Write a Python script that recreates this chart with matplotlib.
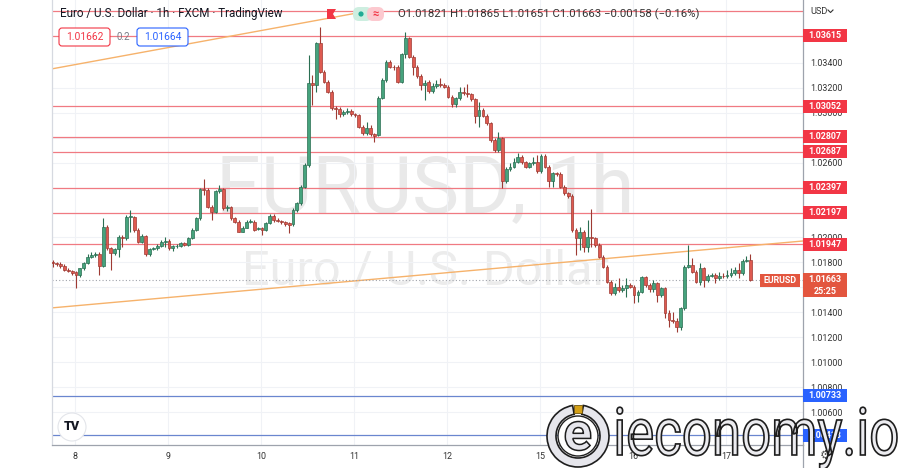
"""
EURUSD 1h candles (FXCM via TradingView) with support / resistance levels.

Writes: out.png
"""

import matplotlib
matplotlib.use("Agg")
import numpy as np
import matplotlib.pyplot as plt
import matplotlib.patches as mpatches
import matplotlib.transforms as mtransforms
from matplotlib.textpath import TextPath
from matplotlib.font_manager import FontProperties
from matplotlib.lines import Line2D

plt.rcParams["font.family"] = ["Roboto", "DejaVu Sans"]

W, H = 899, 468

# hourly bars, oldest first
OPEN = [
    1.01801, 1.01793, 1.01785, 1.01775, 1.01740, 1.01732, 1.01721, 1.01700, 1.01753, 1.01793,
    1.01847, 1.01860, 1.01868, 1.01775, 1.02087, 1.01914, 1.01874, 1.01908, 1.02007, 1.01994,
    1.02167, 1.02167, 1.02060, 1.01967, 1.02015, 1.01866, 1.01908, 1.01914, 1.01935, 1.01967,
    1.01975, 1.01914, 1.01930, 1.01935, 1.01954, 1.01940, 1.01994, 1.02060, 1.02154, 1.02389,
    1.02381, 1.02247, 1.02202, 1.02373, 1.02389, 1.02234, 1.02247, 1.02154, 1.02127, 1.02047,
    1.02079, 1.02127, 1.02127, 1.02068, 1.02074, 1.02060, 1.02114, 1.02175, 1.02141, 1.02133,
    1.02122, 1.02114, 1.02106, 1.02221, 1.02274, 1.02407, 1.02581, 1.03235, 1.03221, 1.03555,
    1.03328, 1.03248, 1.03168, 1.03035, 1.03029, 1.02986, 1.03002, 1.03013, 1.02986, 1.02981,
    1.02888, 1.02834, 1.02880, 1.02826, 1.02821, 1.03120, 1.03262, 1.03408, 1.03368, 1.03368,
    1.03248, 1.03467, 1.03595, 1.03448, 1.03368, 1.03296, 1.03221, 1.03243, 1.03173, 1.03213,
    1.03227, 1.03221, 1.03208, 1.03128, 1.03067, 1.03115, 1.03168, 1.03155, 1.03147, 1.03109,
    1.02976, 1.03021, 1.02976, 1.02914, 1.02781, 1.02701, 1.02794, 1.02452, 1.02549, 1.02567,
    1.02607, 1.02647, 1.02602, 1.02567, 1.02594, 1.02602, 1.02533, 1.02656, 1.02568, 1.02455,
    1.02514, 1.02509, 1.02407, 1.02354, 1.02333, 1.02060, 1.01993, 1.02047, 1.01927, 1.02001,
    1.01993, 1.01940, 1.01847, 1.01767, 1.01646, 1.01553, 1.01606, 1.01580, 1.01593, 1.01620,
    1.01606, 1.01540, 1.01566, 1.01681, 1.01620, 1.01585, 1.01633, 1.01540, 1.01593, 1.01393,
    1.01339, 1.01334, 1.01286, 1.01433, 1.01767, 1.01780, 1.01726, 1.01646, 1.01753, 1.01660,
    1.01692, 1.01700, 1.01673, 1.01692, 1.01689, 1.01700, 1.01718, 1.01740, 1.01718, 1.01815,
    1.01821,
]
HIGH = [
    1.01820, 1.01807, 1.01801, 1.01785, 1.01753, 1.01740, 1.01732, 1.01759, 1.01807, 1.01866,
    1.01882, 1.01887, 1.01882, 1.02154, 1.02101, 1.01927, 1.01919, 1.02020, 1.02020, 1.02181,
    1.02221, 1.02170, 1.02074, 1.02026, 1.02020, 1.01919, 1.01927, 1.01946, 1.01978, 1.02007,
    1.01988, 1.01940, 1.01946, 1.01967, 1.01967, 1.02007, 1.02074, 1.02167, 1.02400, 1.02469,
    1.02394, 1.02261, 1.02384, 1.02421, 1.02400, 1.02261, 1.02255, 1.02167, 1.02141, 1.02095,
    1.02141, 1.02149, 1.02141, 1.02087, 1.02087, 1.02127, 1.02186, 1.02186, 1.02154, 1.02143,
    1.02133, 1.02127, 1.02234, 1.02287, 1.02420, 1.02594, 1.03462, 1.03302, 1.03568, 1.03689,
    1.03342, 1.03262, 1.03181, 1.03053, 1.03043, 1.03019, 1.03035, 1.03029, 1.03000, 1.02989,
    1.02901, 1.02928, 1.02901, 1.02837, 1.03136, 1.03275, 1.03422, 1.03422, 1.03382, 1.03382,
    1.03481, 1.03643, 1.03608, 1.03462, 1.03382, 1.03310, 1.03262, 1.03262, 1.03235, 1.03262,
    1.03275, 1.03235, 1.03221, 1.03141, 1.03128, 1.03208, 1.03208, 1.03227, 1.03160, 1.03120,
    1.03088, 1.03035, 1.02989, 1.02928, 1.02794, 1.02848, 1.02808, 1.02562, 1.02594, 1.02634,
    1.02674, 1.02661, 1.02615, 1.02607, 1.02647, 1.02661, 1.02666, 1.02669, 1.02581, 1.02527,
    1.02527, 1.02522, 1.02420, 1.02367, 1.02346, 1.02074, 1.02087, 1.02060, 1.02140, 1.02226,
    1.02007, 1.01954, 1.01860, 1.01780, 1.01660, 1.01633, 1.01673, 1.01620, 1.01673, 1.01633,
    1.01620, 1.01580, 1.01692, 1.01692, 1.01633, 1.01660, 1.01646, 1.01606, 1.01606, 1.01419,
    1.01406, 1.01353, 1.01446, 1.01780, 1.01940, 1.01833, 1.01740, 1.01793, 1.01767, 1.01706,
    1.01713, 1.01713, 1.01726, 1.01713, 1.01740, 1.01753, 1.01767, 1.01793, 1.01828, 1.01852,
    1.01865,
]
LOW = [
    1.01767, 1.01775, 1.01759, 1.01732, 1.01721, 1.01700, 1.01593, 1.01687, 1.01740, 1.01785,
    1.01834, 1.01847, 1.01700, 1.01767, 1.01900, 1.01740, 1.01860, 1.01847, 1.01927, 1.01980,
    1.02047, 1.02047, 1.01954, 1.01954, 1.01855, 1.01855, 1.01900, 1.01903, 1.01927, 1.01927,
    1.01900, 1.01892, 1.01914, 1.01927, 1.01932, 1.01932, 1.01986, 1.02052, 1.02141, 1.02341,
    1.02234, 1.02141, 1.02194, 1.02354, 1.02221, 1.02213, 1.02141, 1.02114, 1.02042, 1.02042,
    1.02074, 1.02114, 1.02052, 1.02058, 1.02020, 1.02052, 1.02106, 1.02127, 1.02122, 1.02111,
    1.02095, 1.02034, 1.02095, 1.02207, 1.02260, 1.02394, 1.02567, 1.03061, 1.03168, 1.03315,
    1.03235, 1.03155, 1.03021, 1.02949, 1.02968, 1.02973, 1.02986, 1.02973, 1.02965, 1.02874,
    1.02821, 1.02821, 1.02813, 1.02762, 1.02813, 1.03107, 1.03248, 1.03355, 1.03342, 1.03235,
    1.03235, 1.03440, 1.03435, 1.03302, 1.03275, 1.03181, 1.03101, 1.03155, 1.03155, 1.03200,
    1.03208, 1.03195, 1.03115, 1.03048, 1.03048, 1.03101, 1.03141, 1.03128, 1.03096, 1.02914,
    1.02888, 1.02962, 1.02901, 1.02768, 1.02687, 1.02687, 1.02394, 1.02439, 1.02535, 1.02554,
    1.02594, 1.02589, 1.02554, 1.02554, 1.02581, 1.02519, 1.02514, 1.02555, 1.02407, 1.02407,
    1.02495, 1.02394, 1.02341, 1.02319, 1.02047, 1.01860, 1.01900, 1.01887, 1.01887, 1.01927,
    1.01927, 1.01834, 1.01754, 1.01633, 1.01540, 1.01540, 1.01566, 1.01566, 1.01526, 1.01593,
    1.01473, 1.01486, 1.01553, 1.01606, 1.01566, 1.01566, 1.01486, 1.01526, 1.01353, 1.01286,
    1.01313, 1.01246, 1.01259, 1.01419, 1.01754, 1.01713, 1.01633, 1.01620, 1.01606, 1.01646,
    1.01686, 1.01633, 1.01660, 1.01673, 1.01673, 1.01686, 1.01700, 1.01673, 1.01700, 1.01800,
    1.01651,
]
CLOSE = [
    1.01793, 1.01785, 1.01775, 1.01740, 1.01732, 1.01713, 1.01700, 1.01753, 1.01793, 1.01847,
    1.01860, 1.01868, 1.01775, 1.02087, 1.01914, 1.01874, 1.01908, 1.02007, 1.01994, 1.02167,
    1.02170, 1.02060, 1.01967, 1.02015, 1.01866, 1.01908, 1.01914, 1.01935, 1.01967, 1.01975,
    1.01914, 1.01930, 1.01935, 1.01954, 1.01940, 1.01994, 1.02060, 1.02154, 1.02389, 1.02381,
    1.02247, 1.02202, 1.02373, 1.02389, 1.02234, 1.02247, 1.02154, 1.02127, 1.02047, 1.02079,
    1.02127, 1.02135, 1.02060, 1.02074, 1.02060, 1.02114, 1.02175, 1.02141, 1.02133, 1.02122,
    1.02106, 1.02101, 1.02221, 1.02274, 1.02407, 1.02581, 1.03235, 1.03221, 1.03555, 1.03328,
    1.03248, 1.03168, 1.03035, 1.03029, 1.02986, 1.03002, 1.03013, 1.02986, 1.02981, 1.02888,
    1.02834, 1.02880, 1.02826, 1.02816, 1.03120, 1.03262, 1.03408, 1.03368, 1.03365, 1.03248,
    1.03467, 1.03595, 1.03448, 1.03368, 1.03296, 1.03221, 1.03235, 1.03173, 1.03213, 1.03227,
    1.03221, 1.03208, 1.03128, 1.03067, 1.03115, 1.03168, 1.03155, 1.03147, 1.03109, 1.02976,
    1.03021, 1.02976, 1.02914, 1.02781, 1.02701, 1.02794, 1.02452, 1.02549, 1.02567, 1.02607,
    1.02647, 1.02602, 1.02567, 1.02594, 1.02602, 1.02533, 1.02655, 1.02568, 1.02455, 1.02514,
    1.02509, 1.02407, 1.02354, 1.02333, 1.02060, 1.01993, 1.02047, 1.01927, 1.02001, 1.01993,
    1.01940, 1.01847, 1.01767, 1.01646, 1.01553, 1.01606, 1.01580, 1.01593, 1.01620, 1.01606,
    1.01540, 1.01566, 1.01681, 1.01620, 1.01585, 1.01633, 1.01540, 1.01593, 1.01393, 1.01339,
    1.01334, 1.01286, 1.01433, 1.01767, 1.01780, 1.01726, 1.01646, 1.01753, 1.01660, 1.01692,
    1.01700, 1.01673, 1.01692, 1.01689, 1.01700, 1.01718, 1.01740, 1.01718, 1.01815, 1.01820,
    1.01663,
]

DAY_LABELS = ["8", "9", "10", "11", "12", "15", "16", "17"]
FIRST_DAY_BAR = 5.75
BARS_PER_DAY = 24

# horizontal levels drawn on the chart
RES_LEVELS = [1.03615, 1.03052, 1.02807, 1.02687, 1.02397, 1.02197, 1.01947]
TOP_LEVEL = 1.03814          # label hidden behind the currency menu
SUP_LEVELS = [1.00733, 1.00418]

# trend lines: (bar index, price) end points
TREND_UPPER = ([-1, 81], [1.03346, 1.03812])
TREND_LOWER = ([-1, 194], [1.01434, 1.01973])

LAST_PRICE = 1.01663
COUNTDOWN = "25:25"
BID, SPREAD, ASK = "1.01662", "0.2", "1.01664"
OHLC_TEXT = "O1.01821 H1.01865 L1.01651 C1.01663 \u22120.00158 (\u22120.16%)"

Y_TICKS = [1.006, 1.008, 1.010, 1.012, 1.014, 1.016, 1.018, 1.020,
           1.022, 1.024, 1.026, 1.028, 1.030, 1.032, 1.034]
# scale labels that sit fully under a price tag
HIDDEN_TICKS = [1.016, 1.022, 1.024, 1.028]

GREEN, GREEN_EDGE = "#46a37d", "#2a6e52"
RED, RED_EDGE = "#de5a50", "#9e3a33"
TAG_RED = "#f23645"
TAG_BLUE = "#2962ff"
TAG_LAST = "#e3563f"
LEVEL_RED = "#f07a82"
LEVEL_BLUE = "#6a86cf"
TREND_COL = "#f6b26b"
TEXT = "#131722"
GRID = "#f0f2f6"

# plot frame in pixels (top-left origin)
PL, PR, PT, PB = 52, 803, 0, 445
YMIN, YMAX = 1.00338, 1.03902
XMIN, XMAX = -0.19, 193.6


def main():
    fig = plt.figure(figsize=(W / 100, H / 100), dpi=100)
    fig.patch.set_facecolor("white")
    px = mtransforms.Affine2D().scale(1 / W, 1 / H) + fig.transFigure

    ax = fig.add_axes([PL / W, 1 - PB / H, (PR - PL) / W, (PB - PT) / H])
    ax.set_facecolor("white")
    ax.set_xlim(XMIN, XMAX)
    ax.set_ylim(YMIN, YMAX)

    day_pos = [FIRST_DAY_BAR + BARS_PER_DAY * k for k in range(len(DAY_LABELS))]
    ax.set_xticks(day_pos)
    ax.set_xticklabels(DAY_LABELS)
    ax.set_yticks(Y_TICKS)
    ax.set_yticklabels(["" if any(abs(v - t) < 1e-9 for t in HIDDEN_TICKS) else f"{v:.5f}"
                        for v in Y_TICKS])
    ax.yaxis.tick_right()
    ax.tick_params(axis="y", length=0, pad=5.5, labelsize=6.4, labelcolor="#333")
    ax.tick_params(axis="x", length=0, pad=5, labelsize=6.4, labelcolor="#333")
    ax.grid(True, color=GRID, lw=0.8)
    ax.set_axisbelow(True)
    ax.spines["top"].set_visible(False)
    ax.spines["left"].set_color("#d6d9e0")
    ax.spines["bottom"].set_color("#9ea3ad")
    ax.spines["right"].set_color("#9ea3ad")
    for s in ("left", "bottom", "right"):
        ax.spines[s].set_linewidth(0.9)
    fig.add_artist(Line2D([PR, PR], [0, H - PB], transform=px, color="#9ea3ad", lw=0.9))

    # watermarks
    ax.text(0.497, 1 - 212 / 445, "EURUSD, 1h", transform=ax.transAxes,
            ha="center", va="baseline", fontsize=57, color="#e9e9e9", zorder=0)
    ax.text(0.497, 1 - 284 / 445, "Euro / U.S. Dollar", transform=ax.transAxes,
            ha="center", va="baseline", fontsize=35, color="#ececec", zorder=0)

    # levels and trend lines
    ax.axhline(TOP_LEVEL, color=LEVEL_RED, lw=0.9, zorder=2)
    for lvl in RES_LEVELS:
        ax.axhline(lvl, color=LEVEL_RED, lw=0.9, zorder=2)
    for lvl in SUP_LEVELS:
        ax.axhline(lvl, color=LEVEL_BLUE, lw=0.9, zorder=2)
    ax.plot(*TREND_UPPER, color=TREND_COL, lw=1, zorder=2)
    ax.plot(*TREND_LOWER, color=TREND_COL, lw=1, zorder=2)
    ax.axhline(LAST_PRICE, color="#a0a3ab", lw=0.8, ls=(0, (1, 2)), zorder=2)

    # candles
    o, h, l, c = (np.array(a) for a in (OPEN, HIGH, LOW, CLOSE))
    idx = np.arange(len(c))
    up = c >= o
    wick_col = np.where(up, GREEN_EDGE, RED_EDGE)
    ax.vlines(idx, l, h, colors=wick_col, lw=0.8, zorder=3)
    body = np.maximum(np.abs(c - o), 0.00004)
    ax.bar(idx, body, bottom=np.minimum(o, c), width=0.72,
           color=np.where(up, GREEN, RED), edgecolor=wick_col, linewidth=0.5, zorder=4)

    # price tags on the axis
    dy = (YMAX - YMIN) / (PB - PT)
    blend = mtransforms.blended_transform_factory(fig.transFigure, ax.transData)

    def tag(price, text, color, x0=PR, w=44, h_up=6.5, h_dn=6.5):
        ax.add_patch(mpatches.Rectangle((x0 / W, price - h_dn * dy), w / W, (h_up + h_dn) * dy,
                                        transform=blend, facecolor=color, edgecolor="none",
                                        clip_on=False, zorder=10))
        ax.text((x0 + w / 2) / W, price, text, transform=blend, ha="center", va="center",
                color="white", fontsize=6.4, fontweight="bold", clip_on=False, zorder=11)

    for lvl in RES_LEVELS:
        tag(lvl, f"{lvl:.5f}", TAG_RED)
    for lvl in SUP_LEVELS:
        tag(lvl, f"{lvl:.5f}", TAG_BLUE)
    tag(LAST_PRICE, f"{LAST_PRICE:.5f}", TAG_LAST, h_up=6.5, h_dn=17.5)
    ax.text((PR + 22) / W, LAST_PRICE - 11.5 * dy, COUNTDOWN, transform=blend,
            ha="center", va="center", color="white", fontsize=6.4, fontweight="bold",
            clip_on=False, zorder=11)
    tag(LAST_PRICE - 1.2 * dy, "EURUSD", TAG_LAST, x0=760, w=40)

    # header legend
    fig.text(60 / W, 1 - 14 / H, "Euro / U.S. Dollar \u00b7 1h \u00b7 FXCM \u00b7 TradingView",
             fontsize=8.4, color=TEXT, va="center", ha="left")
    flag = [(327, 9), (336, 9), (333, 14), (336, 19), (327, 19)]
    fig.add_artist(mpatches.Polygon([(x, H - y) for x, y in flag], closed=True,
                                    transform=px, facecolor="#f23645", edgecolor="none"))
    fig.add_artist(mpatches.FancyBboxPatch((353, H - 21), 19, 14,
                                           boxstyle="round,pad=0,rounding_size=6",
                                           transform=px, facecolor="#cdeee0", edgecolor="none"))
    fig.add_artist(mpatches.Circle((361, H - 14), 2.6, transform=px,
                                   facecolor="#22ab94", edgecolor="none"))
    fig.add_artist(mpatches.FancyBboxPatch((367, H - 21), 17, 14,
                                           boxstyle="round,pad=0,rounding_size=6",
                                           transform=px, facecolor="#fcc9cf", edgecolor="none"))
    fig.text(375.5 / W, 1 - 14 / H, "\u2248", fontsize=8, color=TAG_RED,
             ha="center", va="center", fontweight="bold")
    fig.text(398 / W, 1 - 14 / H, OHLC_TEXT, fontsize=8.2, color="#333", va="center", ha="left")

    for x0, txt, col in ((59, BID, TAG_RED), (137, ASK, TAG_BLUE)):
        fig.add_artist(mpatches.FancyBboxPatch((x0, H - 46), 51, 18,
                                               boxstyle="round,pad=0,rounding_size=3",
                                               transform=px, facecolor="white",
                                               edgecolor=col, lw=0.8))
        fig.text((x0 + 25.5) / W, 1 - 37 / H, txt, fontsize=7.4, color=col,
                 ha="center", va="center")
    fig.text(123 / W, 1 - 37 / H, SPREAD, fontsize=7, color="#787b86", ha="center", va="center")

    # currency menu
    fig.text(810 / W, 1 - 11 / H, "USD", fontsize=6.6, color="#333", va="center", ha="left")
    fig.add_artist(Line2D([828, 830.5, 833], [H - 10, H - 12.5, H - 10], transform=px,
                          color="#333", lw=0.8))

    # TradingView badge
    fig.add_artist(mpatches.Circle((72, H - 427), 14, transform=px,
                                   facecolor="white", edgecolor="#e3e5ea", lw=0.8))
    fig.text(72 / W, 1 - 427 / H, "TV", fontsize=9, fontweight="heavy", color=TEXT,
             ha="center", va="center")
    fig.text(825 / W, 1 - 455 / H, "\u2699", fontsize=9, color="#555",
             ha="center", va="center", family=["DejaVu Sans"])

    # ieconomy.io watermark
    fp = FontProperties(family="Roboto")
    tp = TextPath((0, 0), "ieconomy.io", size=1, prop=fp)
    ext = tp.get_extents()
    sx, sy = 280 / ext.width, 35 / 0.528
    tr = mtransforms.Affine2D().translate(-ext.x0, 0).scale(sx, sy).translate(617, H - 455) + px
    fig.add_artist(mpatches.PathPatch(tp, transform=tr, facecolor="#ececf0",
                                      edgecolor="#1e1e1e", lw=1.2, zorder=20))
    cx, cy = 578, H - 436
    fig.add_artist(mpatches.Wedge((cx, cy), 31, 100, 440, width=9, transform=px,
                                  facecolor="#e6e6ec", edgecolor="#1e1e1e", lw=1.2, zorder=20))
    fig.add_artist(mpatches.Circle((cx, cy), 20, transform=px, facecolor="white",
                                   edgecolor="#1e1e1e", lw=1.0, zorder=20))
    fb = FontProperties(family="Roboto", weight="bold")
    ep = TextPath((0, 0), "e", size=1, prop=fb)
    ee = ep.get_extents()
    s = 29 / ee.height
    etr = (mtransforms.Affine2D().translate(-(ee.x0 + ee.width / 2), -(ee.y0 + ee.height / 2))
           .scale(s, s).translate(cx, cy) + px)
    fig.add_artist(mpatches.PathPatch(ep, transform=etr, facecolor="#e6e6ec",
                                      edgecolor="#1e1e1e", lw=1.1, zorder=21))
    fig.add_artist(mpatches.Rectangle((cx - 4, H - 413), 8, 8, transform=px,
                                      facecolor="#d4a017", edgecolor="#6b5210", lw=0.6,
                                      zorder=21))

    fig.savefig("out.png", dpi=100, facecolor="white")
    plt.close(fig)


if __name__ == "__main__":
    main()
